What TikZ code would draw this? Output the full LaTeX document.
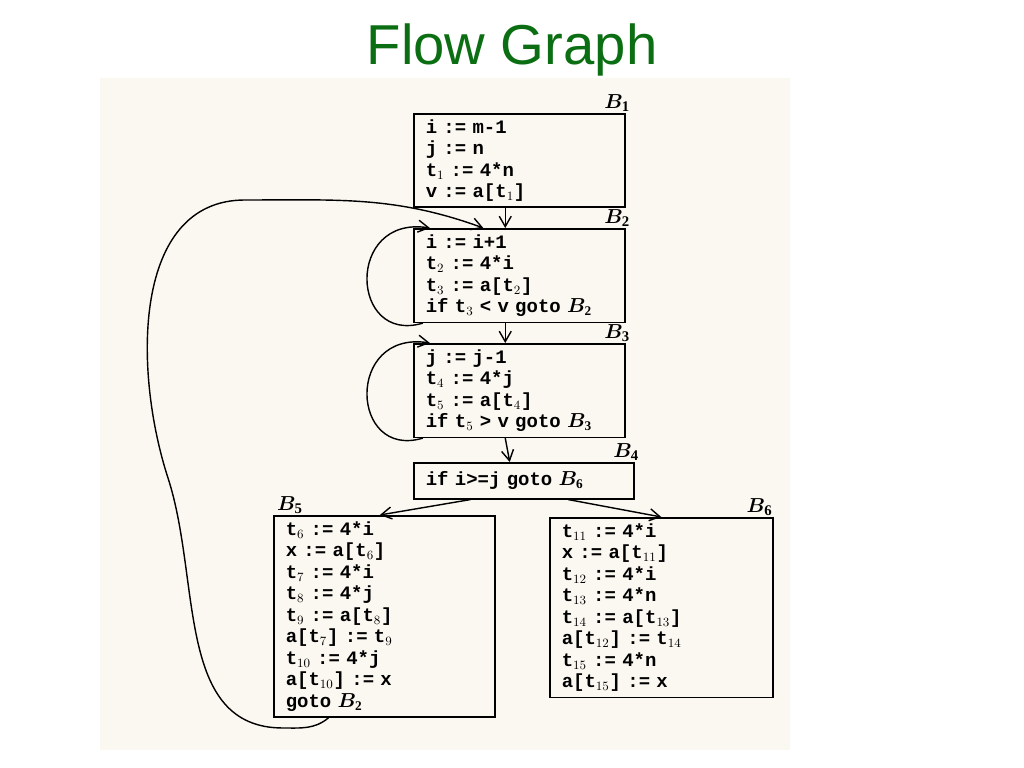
\documentclass[tikz,border=0pt]{standalone}
\usepackage{amsmath,bm}
\usepackage{fontspec}
\setmainfont{Liberation Serif}
\setsansfont{Liberation Sans}
\setmonofont{Liberation Mono}
\usetikzlibrary{positioning, arrows.meta, calc}
\definecolor{titlegreen}{HTML}{0B6E12}
\definecolor{paper}{HTML}{FBF8F1}
\newcommand{\blk}[1]{$\bm{B}_{\mathbf{#1}}$}

\begin{document}
\begin{tikzpicture}[x=0.025cm, y=0.025cm,
    flowbox/.style={draw, line width=1.1pt, anchor=north west, align=left, inner xsep=0.3cm, inner ysep=4pt,
      font=\ttfamily\bfseries\fontsize{13.5}{15.3}\selectfont},
    blab/.style={font=\fontsize{15}{15}\selectfont, inner sep=1pt},
    flow/.style={line width=1pt, -{Straight Barb[length=2.6mm, width=3mm]}}]
  % Page and paper
  \useasboundingbox (0,0) rectangle (1024,768);
  \fill[paper] (100,18) rectangle (790,690);
  \node[text=titlegreen, font=\sffamily\fontsize{40}{40}\selectfont] (title) at (512,718) {Flow Graph};
  % Basic blocks
  \node[flowbox, text width=4.675cm, minimum height=2.25cm] (B1) at (413,655)
    {i~:=~m-1\\j~:=~n\\t$_1$~:=~4*n\\v~:=~a[t$_1$]};
  \node[flowbox, text width=4.675cm, minimum height=2.25cm] (B2) at (413,540)
    {i~:=~i+1\\t$_2$~:=~4*i\\t$_3$~:=~a[t$_2$]\\if~t$_3$~<~v~goto~\blk{2}};
  \node[flowbox, text width=4.675cm, minimum height=2.25cm] (B3) at (413,425)
    {j~:=~j-1\\t$_4$~:=~4*j\\t$_5$~:=~a[t$_4$]\\if~t$_5$~>~v~goto~\blk{3}};
  \node[flowbox, text width=4.9cm, minimum height=0.9cm] (B4) at (413,306)
    {if~i>=j~goto~\blk{6}};
  \node[flowbox, text width=4.925cm, minimum height=4.8cm] (B5) at (273,253)
    {t$_6$~:=~4*i\\x~:=~a[t$_6$]\\t$_7$~:=~4*i\\t$_8$~:=~4*j\\t$_9$~:=~a[t$_8$]\\a[t$_7$]~:=~t$_9$\\t$_{10}$~:=~4*j\\a[t$_{10}$]~:=~x\\goto~\blk{2}};
  \node[flowbox, text width=4.975cm, minimum height=4.3cm] (B6) at (549,251)
    {t$_{11}$~:=~4*i\\x~:=~a[t$_{11}$]\\t$_{12}$~:=~4*i\\t$_{13}$~:=~4*n\\t$_{14}$~:=~a[t$_{13}$]\\a[t$_{12}$]~:=~t$_{14}$\\t$_{15}$~:=~4*n\\a[t$_{15}$]~:=~x};
  % Block labels
  \node[blab, anchor=south] (l1) at ([xshift=-6]B1.north east) {\blk{1}};
  \node[blab, anchor=south] (l2) at ([xshift=-6]B2.north east) {\blk{2}};
  \node[blab, anchor=south] (l3) at ([xshift=-6]B3.north east) {\blk{3}};
  \node[blab, anchor=south] (l4) at ([xshift=-6]B4.north east) {\blk{4}};
  \node[blab, anchor=south] (l5) at ([xshift=12]B5.north west) {\blk{5}};
  \node[blab, anchor=south] (l6) at ([xshift=-10]B6.north east) {\blk{6}};
  % Edges
  \draw[flow] ([xshift=-10]B1.south) -- ([xshift=-10]B2.north);
  \draw[flow] ([xshift=-10]B2.south) -- ([xshift=-10]B3.north);
  \draw[flow] ([xshift=-10]B3.south) -- ([xshift=-10]B4.north);
  \draw[flow] ($(B4.south west)!0.26!(B4.south east)$) -- ($(B5.north west)!0.48!(B5.north east)$);
  \draw[flow] ($(B4.south west)!0.70!(B4.south east)$) -- ($(B6.north west)!0.50!(B6.north east)$);
  % Back edges
  \draw[flow] ([xshift=7]B2.south west) .. controls (350,423) and (345,553) .. ([xshift=12]B2.north west);
  \draw[flow] ([xshift=7]B3.south west) .. controls (350,308) and (345,438) .. ([xshift=12]B3.north west);
  \draw[flow] ($(B5.south west)!0.25!(B5.south east)$) to[out=-140, in=0] (283,40)
    to[out=180, in=-72] (168,290) to[out=108, in=180] (245,568) to[out=0, in=160] ([xshift=50]B2.north west);
\end{tikzpicture}
\end{document}
